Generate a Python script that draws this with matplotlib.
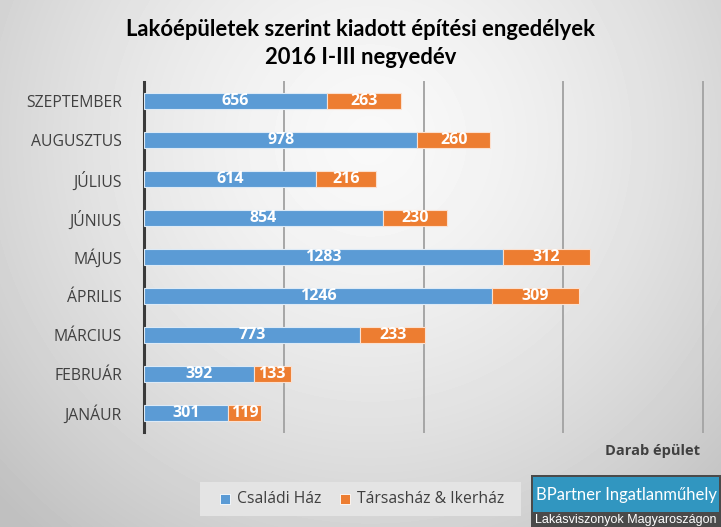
import numpy as np
import matplotlib
matplotlib.use("Agg")
import matplotlib.pyplot as plt
from matplotlib.patches import Rectangle

# data (bottom to top)
months = ['JANÁUR', 'FEBRUÁR', 'MÁRCIUS', 'ÁPRILIS', 'MÁJUS',
          'JÚNIUS', 'JÚLIUS', 'AUGUSZTUS', 'SZEPTEMBER']
csaladi = [301, 392, 773, 1246, 1283, 854, 614, 978, 656]
tarsas = [119, 133, 233, 309, 312, 230, 216, 260, 263]
grid_ticks = [500, 1000, 1500, 2000]

blue = '#5b9bd5'
orange = '#ed7d31'
txt = '#404040'

W, H = 721, 527
fig = plt.figure(figsize=(W / 100, H / 100), dpi=100)

# radial grey background
bg = fig.add_axes([0, 0, 1, 1], zorder=-10)
yy, xx = np.mgrid[0:H, 0:W]
r = np.sqrt(((xx - 370) / 430.0) ** 2 + ((yy - 140) / 430.0) ** 2)
val = 0.975 - 0.17 * np.clip(r, 0, 1.2) ** 1.5
bg.imshow(val, cmap='gray', vmin=0, vmax=1, aspect='auto',
          extent=[0, W, H, 0], interpolation='bilinear')
bg.set_xlim(0, W)
bg.set_ylim(H, 0)
bg.axis('off')

# main axes
left, right, top, bottom = 144, 703, 82, 432
ax = fig.add_axes([left / W, 1 - bottom / H, (right - left) / W, (bottom - top) / H])
ax.patch.set_alpha(0)
y = np.arange(len(months))
ax.barh(y, csaladi, height=0.41, color=blue, edgecolor='#ddeaf6', linewidth=0.8, zorder=3)
ax.barh(y, tarsas, left=csaladi, height=0.41, color=orange, edgecolor='#fbe0cf',
        linewidth=0.8, zorder=3)

for i in range(len(months)):
    ax.text(csaladi[i] / 2, i, str(csaladi[i]), ha='center', va='center',
            color='white', fontsize=11.5, fontweight='bold', family='Open Sans', zorder=4)
    ax.text(csaladi[i] + tarsas[i] / 2, i, str(tarsas[i]), ha='center', va='center',
            color='white', fontsize=11.5, fontweight='bold', family='Open Sans', zorder=4)

for g in grid_ticks:
    ax.axvline(g, color='#a6a6a6', linewidth=1.4, zorder=1, clip_on=False)

ax.set_xlim(0, 2000)
ax.set_ylim(-0.5, len(months) - 0.5)
ax.set_yticks(y)
ax.set_yticklabels(months, fontsize=11.3, color=txt, family='Open Sans')
ax.set_xticks([])
ax.tick_params(axis='y', length=0, pad=16)
for s in ['top', 'right', 'bottom']:
    ax.spines[s].set_visible(False)
ax.spines['left'].set_color('#3a3a3a')
ax.spines['left'].set_linewidth(2.2)

# title
fig.text(361 / W, 1 - 29 / H, 'Lakóépületek szerint kiadott építési engedélyek',
         ha='center', va='center', fontsize=15.8, fontweight='bold', family='Lato', color='black')
fig.text(361 / W, 1 - 58 / H, '2016 I-III negyedév',
         ha='center', va='center', fontsize=15.8, fontweight='bold', family='Lato', color='black')

# axis title
fig.text(700 / W, 1 - 451 / H, 'Darab épület', ha='right', va='center',
         fontsize=10.5, fontweight='bold', family='Open Sans', color=txt)

# legend
fig.patches.append(Rectangle((200 / W, 1 - 516 / H), 321 / W, 34 / H,
                             transform=fig.transFigure, facecolor='#e4e4e4',
                             edgecolor='none', zorder=1))
ly = 1 - 499 / H
for x0, col, lab in [(220, blue, 'Családi Ház'), (340, orange, 'Társasház & Ikerház')]:
    fig.patches.append(Rectangle((x0 / W, ly - 5 / H), 10 / W, 10 / H,
                                 transform=fig.transFigure, facecolor=col,
                                 edgecolor='white', linewidth=0.6, zorder=2))
    fig.text((x0 + 17) / W, ly, lab, ha='left', va='center', fontsize=11.3,
             family='Open Sans', color=txt)

# logo
fig.patches.append(Rectangle((531 / W, 0), 190 / W, 52 / H, transform=fig.transFigure,
                             facecolor='#4a4a4a', edgecolor='none', zorder=1))
fig.patches.append(Rectangle((533 / W, 1 - 512 / H), 186 / W, 35 / H,
                             transform=fig.transFigure, facecolor='#3196c0',
                             edgecolor='none', zorder=2))
fig.text(626 / W, 1 - 495 / H, 'BPartner Ingatlanműhely', ha='center', va='center',
         fontsize=12, family='Lato', color='white')
fig.text(626 / W, 1 - 520 / H, 'Lakásviszonyok Magyaroszágon', ha='center', va='center',
         fontsize=9, family='Liberation Sans', color='white')

fig.savefig('out.png', dpi=100)
